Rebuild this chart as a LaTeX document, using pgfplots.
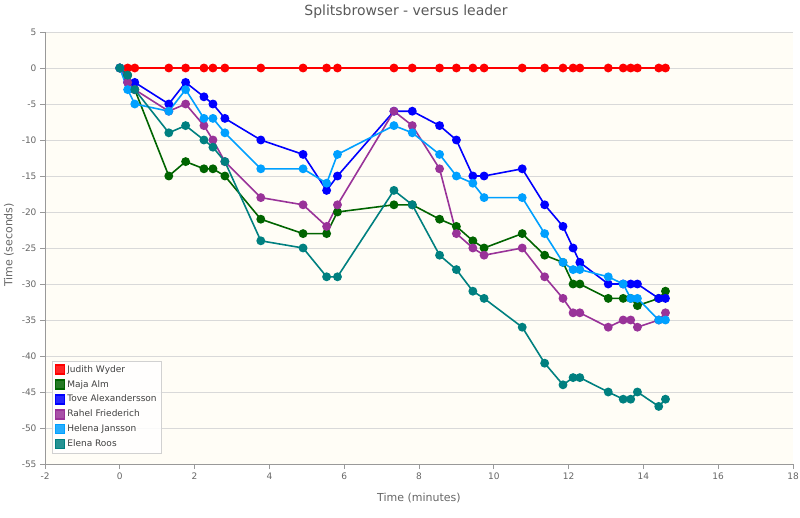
\documentclass[border=0pt]{standalone}
\usepackage{pgfplots}
\pgfplotsset{compat=1.18}
\usepackage{pgfplotstable}
\usepackage{fontspec}
\setmainfont{DejaVu Sans}

\definecolor{cJudith}{HTML}{FF0000}
\definecolor{cMaja}{HTML}{006400}
\definecolor{cTove}{HTML}{0000FF}
\definecolor{cRahel}{HTML}{993399}
\definecolor{cHelena}{HTML}{00A0FF}
\definecolor{cElena}{HTML}{008080}
\definecolor{plotbg}{HTML}{FFFDF6}
\definecolor{gridc}{HTML}{D9D9D9}
\definecolor{txt}{HTML}{666666}

% x: leader's cumulative time (minutes); others: seconds behind leader
\pgfplotstableread{
x      judith maja tove rahel helena elena
0      0      0    0    0     0      0
0.21   0      -1   -2   -2    -3     -1
0.40   0      -3   -2   -3    -5     -3
1.31   0      -15  -5   -6    -6     -9
1.76   0      -13  -2   -5    -3     -8
2.25   0      -14  -4   -8    -7     -10
2.49   0      -14  -5   -10   -7     -11
2.81   0      -15  -7   -13   -9     -13
3.77   0      -21  -10  -18   -14    -24
4.90   0      -23  -12  -19   -14    -25
5.53   0      -23  -17  -22   -16    -29
5.82   0      -20  -15  -19   -12    -29
7.33   0      -19  -6   -6    -8     -17
7.82   0      -19  -6   -8    -9     -19
8.55   0      -21  -8   -14   -12    -26
9.00   0      -22  -10  -23   -15    -28
9.44   0      -24  -15  -25   -16    -31
9.74   0      -25  -15  -26   -18    -32
10.76  0      -23  -14  -25   -18    -36
11.36  0      -26  -19  -29   -23    -41
11.85  0      -27  -22  -32   -27    -44
12.12  0      -30  -25  -34   -28    -43
12.30  0      -30  -27  -34   -28    -43
13.06  0      -32  -30  -36   -29    -45
13.46  0      -32  -30  -35   -30    -46
13.66  0      -32  -30  -35   -32    -46
13.84  0      -33  -30  -36   -32    -45
14.41  0      -32  -32  -35   -35    -47
14.59  0      -31  -32  -34   -35    -46
}\splits

\begin{document}
\begin{tikzpicture}
\useasboundingbox (0,0) rectangle (800pt,517pt);
\begin{axis}[
  at={(45pt,53pt)}, anchor=south west,
  scale only axis, width=748pt, height=432pt,
  xmin=-2, xmax=18, ymin=-55, ymax=5,
  xtick={-2,0,...,18}, ytick={-55,-50,...,5},
  axis x line*=bottom, axis y line*=left,
  axis line style={draw=black!40, line width=0.8pt},
  axis background/.style={fill=plotbg},
  tick align=outside, major tick length=5pt,
  tick style={draw=black!40, line width=0.8pt},
  ymajorgrids, grid style={draw=gridc, line width=0.8pt},
  ticklabel style={font=\fontsize{9}{10}\selectfont, text=txt},
  /pgf/number format/assume math mode=true,
  every axis plot/.append style={line width=1.6pt, mark=*, mark size=3.6pt},
  legend cell align=left,
  legend style={at={(0.0094,0.0255)}, anchor=south west,
    draw=black!18, fill=white, fill opacity=0.85, text opacity=1,
    font=\fontsize{9}{10}\selectfont, text=black!75,
    inner sep=2.5pt, row sep=2.6pt},
  legend image code/.code={\fill[#1] (0pt,-4.5pt) rectangle (9pt,4.5pt);},
]
\addplot[cJudith] table[x=x, y=judith] {\splits};
\addlegendentry{Judith Wyder}
\addplot[cMaja] table[x=x, y=maja] {\splits};
\addlegendentry{Maja Alm}
\addplot[cTove] table[x=x, y=tove] {\splits};
\addlegendentry{Tove Alexandersson}
\addplot[cRahel] table[x=x, y=rahel] {\splits};
\addlegendentry{Rahel Friederich}
\addplot[cHelena] table[x=x, y=helena] {\splits};
\addlegendentry{Helena Jansson}
\addplot[cElena] table[x=x, y=elena] {\splits};
\addlegendentry{Elena Roos}
\end{axis}
\node[font=\fontsize{14}{16}\selectfont, text=black!65] at (406pt,505pt) {Splitsbrowser - versus leader};
\node[font=\fontsize{11}{13}\selectfont, text=black!60] at (419pt,19pt) {Time (minutes)};
\node[font=\fontsize{11}{13}\selectfont, text=black!60, rotate=90] at (9pt,272pt) {Time (seconds)};
\end{tikzpicture}
\end{document}
